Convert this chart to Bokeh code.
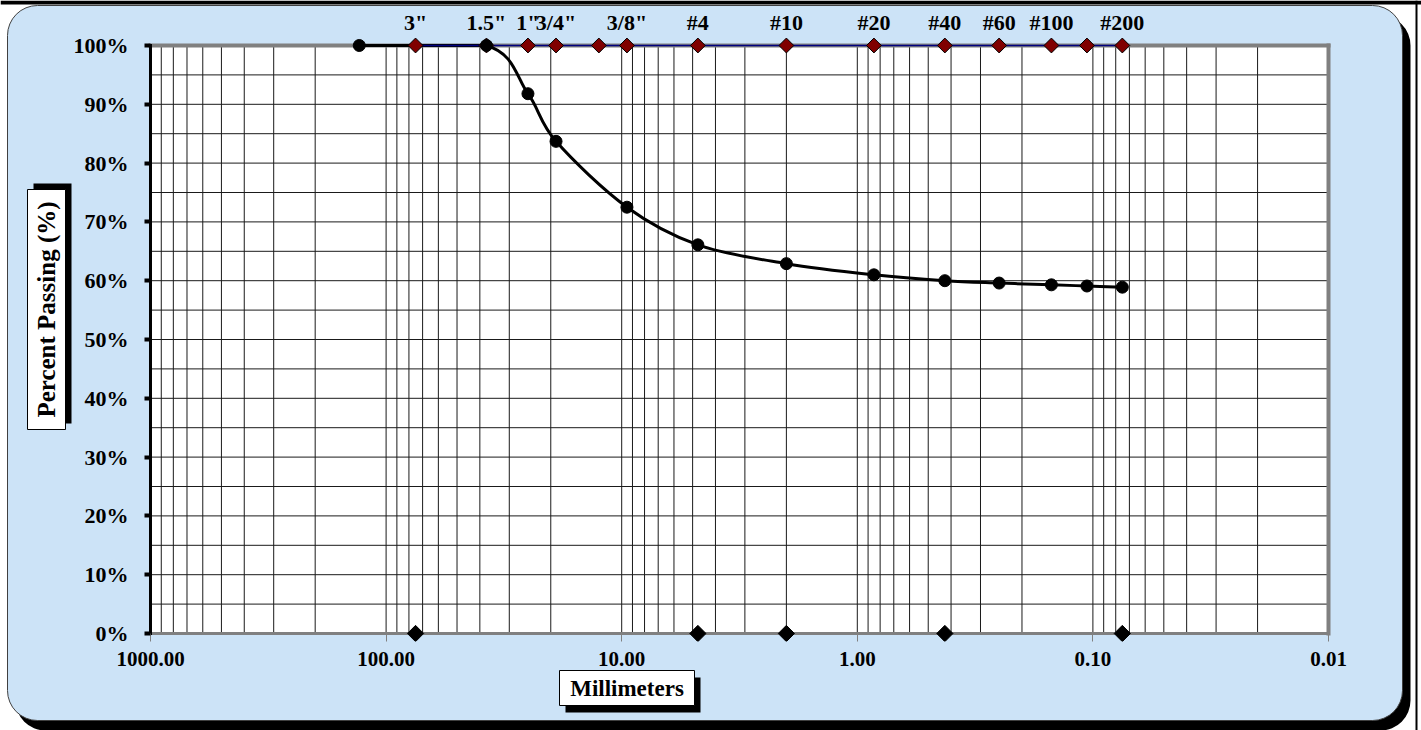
import math
from bokeh.plotting import figure
from bokeh.models import Range1d, FixedTicker, CustomJSTickFormatter
from bokeh.core.properties import value
from bokeh.embed import file_html
from bokeh.resources import INLINE

# ---------------- data ----------------
PASS_MM = [130, 37.5, 25, 19, 9.5, 4.75, 2.0, 0.85, 0.425, 0.25, 0.15, 0.106, 0.075]
PASS_PCT = [100, 100, 91.8, 83.7, 72.5, 66.1, 62.9, 61.0, 60.0, 59.6, 59.3, 59.1, 58.9]

SIEVE_MM = [75, 37.5, 25, 19, 12.5, 9.5, 4.75, 2.0, 0.85, 0.425, 0.25, 0.15, 0.106, 0.075]
SIEVE_LABEL_MM = [75, 37.5, 25, 19, 9.5, 4.75, 2.0, 0.85, 0.425, 0.25, 0.15, 0.075]
SIEVE_LABELS = ['3"', '1.5"', '1"', '3/4"', '3/8"', '#4', '#10', '#20', '#40', '#60', '#100', '#200']
BOUNDARY_MM = [75, 4.75, 2.0, 0.425, 0.075]

X_MAX, X_MIN = 1000, 0.01
Y_MIN, Y_MAX = 0, 100
X_TICKS = [1000, 100, 10, 1, 0.1, 0.01]
Y_TICKS = [0, 10, 20, 30, 40, 50, 60, 70, 80, 90, 100]
X_GRID = [m * 10.0 ** e for e in range(-2, 3) for m in range(1, 10)] + [1000]
Y_GRID = [0, 5, 10, 15, 20, 25, 30, 35, 40, 45, 50, 55, 60, 65, 70, 75, 80, 85, 90, 95, 100]

X_TITLE = "Millimeters"
Y_TITLE = "Percent Passing (%)"

# ---------------- layout ----------------
W, H = 1421, 730
BORDER_L, BORDER_R, BORDER_T, BORDER_B = 144, 87, 0, 89
PAD_X, PAD_TOP, PAD_BOT = 6, 45, 8
frame_w = W - BORDER_L - BORDER_R
frame_h = H - BORDER_T - BORDER_B
px_per_decade = (frame_w - 2 * PAD_X) / 5.0
px_per_unit = (frame_h - PAD_TOP - PAD_BOT) / 100.0

BLUE = "#CCE3F7"
FONT = "Liberation Serif"

# ---------------- background figure (chart area, title boxes) ----------------
bg = figure(width=W, height=H, x_range=Range1d(0, W), y_range=Range1d(0, H),
            x_axis_location=None, y_axis_location=None,
            output_backend="svg", toolbar_location=None,
            min_border=0, min_border_left=0, min_border_right=0,
            min_border_top=0, min_border_bottom=0, outline_line_color=None,
            background_fill_color="white", border_fill_color="white")
bg.grid.visible = False


def Y(py):
    return H - py


# outer black edges
bg.quad(left=[0], right=[W], top=[Y(0)], bottom=[Y(4)], fill_color="black",
        line_color=None)
bg.quad(left=[1415], right=[1417], top=[Y(0)], bottom=[Y(H)], fill_color="black",
        line_color=None)
# chart area shadow and rounded box
bg.quad(left=[15], right=[1410], top=[Y(15)], bottom=[Y(730)], fill_color="black",
        line_color=None, border_radius=30)
bg.quad(left=[7], right=[1402], top=[Y(5)], bottom=[Y(720)], fill_color=BLUE,
        line_color="#404040", line_width=1, border_radius=30)


# boxed axis titles
def boxed_title(text, l, r, t, b, dx, dy, angle, size):
    bg.quad(left=[l + dx], right=[r + dx], top=[Y(t + dy)], bottom=[Y(b + dy)],
            fill_color="black", line_color=None)
    bg.quad(left=[l], right=[r], top=[Y(t)], bottom=[Y(b)], fill_color="white",
            line_color="black", line_width=1)
    bg.text(x=[(l + r) / 2], y=[Y((t + b) / 2)], text=[text], angle=angle,
            text_align="center", text_baseline="middle", text_font=value(FONT),
            text_font_style="bold", text_font_size=size, text_color="black")


boxed_title(X_TITLE, 559, 694, 670, 705, 6, 7, 0, "23px")
boxed_title(Y_TITLE, 27, 65, 189, 429, 6, -6, math.pi / 2, "25px")

# ---------------- main chart ----------------
x_range = Range1d(10 ** (math.log10(X_MAX) + PAD_X / px_per_decade),
                  10 ** (math.log10(X_MIN) - PAD_X / px_per_decade))
y_range = Range1d(Y_MIN - PAD_BOT / px_per_unit, Y_MAX + PAD_TOP / px_per_unit)

p = figure(width=W, height=H, x_axis_type="log", x_range=x_range, y_range=y_range,
           output_backend="svg", toolbar_location=None,
           min_border_left=BORDER_L, min_border_right=BORDER_R,
           min_border_top=BORDER_T, min_border_bottom=BORDER_B,
           background_fill_color=None, border_fill_color=None,
           outline_line_color=None,
           styles={"position": "absolute", "left": "0px", "top": "0px"})
p.grid.visible = False

# plot area
p.quad(left=[X_MAX], right=[X_MIN], bottom=[Y_MIN], top=[Y_MAX],
       fill_color="white", line_color=None)

# grid lines
p.segment(x0=X_GRID, y0=[Y_MIN] * len(X_GRID), x1=X_GRID, y1=[Y_MAX] * len(X_GRID),
          line_color="#1a1a1a", line_width=1)
p.segment(x0=[X_MAX] * len(Y_GRID), y0=Y_GRID, x1=[X_MIN] * len(Y_GRID), y1=Y_GRID,
          line_color="#1a1a1a", line_width=1)

# plot area border
p.segment(x0=[X_MAX], y0=[Y_MIN], x1=[X_MIN], y1=[Y_MIN], line_color="#808080",
          line_width=3, line_cap="square")
p.segment(x0=[X_MAX, X_MIN], y0=[Y_MAX, Y_MIN], x1=[X_MIN, X_MIN], y1=[Y_MAX, Y_MAX],
          line_color="#808080", line_width=4, line_cap="square")
p.segment(x0=[X_MAX], y0=[Y_MIN], x1=[X_MAX], y1=[Y_MAX], line_color="black",
          line_width=3, line_cap="square")

# smoothed gradation curve (cubic Bezier through the points, in log-x space)
lx = [math.log10(v) for v in PASS_MM]
ly = PASS_PCT
n = len(lx)
bx0, by0, bx1, by1, bcx0, bcy0, bcx1, bcy1 = ([] for _ in range(8))
for i in range(n - 1):
    i0 = max(i - 1, 0)
    i3 = min(i + 2, n - 1)
    c1x = lx[i] + (lx[i + 1] - lx[i0]) / 6.0
    c1y = min(ly[i] + (ly[i + 1] - ly[i0]) / 6.0, Y_MAX)
    c2x = lx[i + 1] - (lx[i3] - lx[i]) / 6.0
    c2y = min(ly[i + 1] - (ly[i3] - ly[i]) / 6.0, Y_MAX)
    bx0.append(10 ** lx[i]); by0.append(ly[i])
    bx1.append(10 ** lx[i + 1]); by1.append(ly[i + 1])
    bcx0.append(10 ** c1x); bcy0.append(c1y)
    bcx1.append(10 ** c2x); bcy1.append(c2y)
p.bezier(x0=bx0, y0=by0, x1=bx1, y1=by1, cx0=bcx0, cy0=bcy0, cx1=bcx1, cy1=bcy1,
         line_color="black", line_width=3)

# sieve series on the top edge
p.line(x=SIEVE_MM, y=[Y_MAX] * len(SIEVE_MM), line_color="#000080", line_width=1.5)
p.scatter(x=SIEVE_MM, y=[Y_MAX] * len(SIEVE_MM), marker="square", angle=math.pi / 4,
          size=10.5, fill_color="#800000", line_color="black", line_width=1)

# boundary markers on the bottom edge
p.scatter(x=BOUNDARY_MM, y=[Y_MIN] * len(BOUNDARY_MM), marker="square",
          angle=math.pi / 4, size=11.5, fill_color="black", line_color="black")

# data points
p.scatter(x=PASS_MM, y=PASS_PCT, marker="circle", size=12,
          fill_color="black", line_color="black")

# sieve labels
p.text(x=SIEVE_LABEL_MM, y=[Y_MAX] * len(SIEVE_LABEL_MM), text=SIEVE_LABELS,
       text_align="center", text_baseline="alphabetic", y_offset=-23,
       text_font=value(FONT), text_font_style="bold", text_font_size="22px",
       text_color="black")

# axes
xa = p.xaxis[0]
xa.ticker = FixedTicker(ticks=X_TICKS, minor_ticks=[])
xa.formatter = CustomJSTickFormatter(code="return tick.toFixed(2);")
xa.axis_line_color = None
xa.major_tick_in = PAD_BOT
xa.major_tick_out = 0
xa.major_tick_line_color = "#808080"
xa.major_tick_line_width = 1
xa.minor_tick_line_color = None
xa.major_label_standoff = 10
xa.major_label_text_font = FONT
xa.major_label_text_font_style = "bold"
xa.major_label_text_font_size = "21px"
xa.major_label_text_color = "black"

ya = p.yaxis[0]
ya.ticker = FixedTicker(ticks=Y_TICKS, minor_ticks=[])
ya.formatter = CustomJSTickFormatter(code="return tick.toFixed(0) + '%';")
ya.axis_line_color = None
ya.major_tick_in = PAD_X
ya.major_tick_out = 0
ya.major_tick_line_color = "black"
ya.major_tick_line_width = 4
ya.minor_tick_line_color = None
ya.major_label_standoff = 16
ya.major_label_text_font = FONT
ya.major_label_text_font_style = "bold"
ya.major_label_text_font_size = "22px"
ya.major_label_text_color = "black"

open("out.html", "w").write(file_html([bg, p], INLINE))
